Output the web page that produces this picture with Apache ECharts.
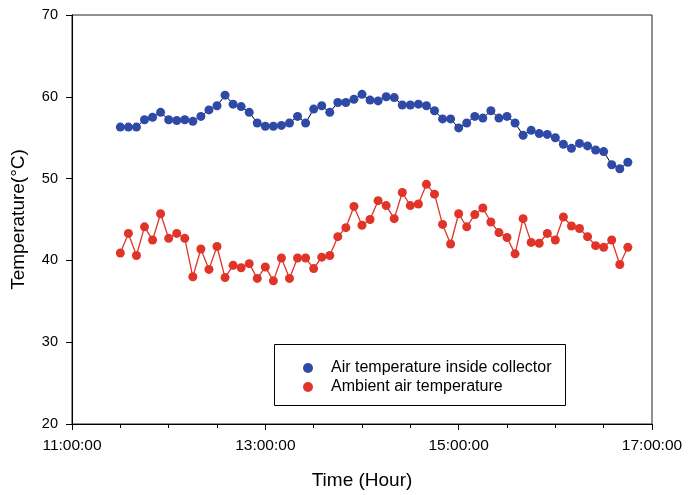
<!DOCTYPE html>
<html>
<head>
<meta charset="utf-8">
<script src="https://cdn.jsdelivr.net/npm/echarts@6/dist/echarts.min.js"></script>
<style>
html,body{margin:0;padding:0;background:#fff;}
#chart{width:690px;height:495px;}
</style>
</head>
<body>
<div id="chart"></div>
<script>
// Time of each reading (hh:mm)
var times = [
"11:30","11:35","11:40","11:45","11:50","11:55","12:00","12:05","12:10","12:15","12:20","12:25",
"12:30","12:35","12:40","12:45","12:50","12:55","13:00","13:05","13:10","13:15","13:20","13:25",
"13:30","13:35","13:40","13:45","13:50","13:55","14:00","14:05","14:10","14:15","14:20","14:25",
"14:30","14:35","14:40","14:45","14:50","14:55","15:00","15:05","15:10","15:15","15:20","15:25",
"15:30","15:35","15:40","15:45","15:50","15:55","16:00","16:05","16:10","16:15","16:20","16:25",
"16:30","16:35","16:40","16:45"
];
// Air temperature inside collector (°C)
var insideTemp = [
56.3,56.3,56.3,57.2,57.5,58.1,57.2,57.1,57.2,57.0,57.6,58.4,
58.9,60.2,59.1,58.8,58.1,56.8,56.4,56.4,56.5,56.8,57.6,56.8,
58.5,58.9,58.1,59.3,59.3,59.7,60.3,59.6,59.5,60.0,59.9,59.0,
59.0,59.1,58.9,58.3,57.3,57.3,56.2,56.8,57.6,57.4,58.3,57.4,
57.6,56.8,55.3,55.9,55.5,55.4,55.0,54.2,53.7,54.3,54.0,53.5,
53.3,51.7,51.2,52.0
];
// Ambient air temperature (°C)
var ambientTemp = [
40.9,43.3,40.6,44.1,42.5,45.7,42.7,43.3,42.7,38.0,41.4,38.9,
41.7,37.9,39.4,39.1,39.6,37.8,39.2,37.5,40.3,37.8,40.3,40.3,
39.0,40.4,40.6,42.9,44.0,46.6,44.3,45.0,47.3,46.7,45.1,48.3,
46.7,46.9,49.3,48.1,44.4,42.0,45.7,44.1,45.6,46.4,44.7,43.4,
42.8,40.8,45.1,42.2,42.1,43.3,42.5,45.3,44.2,43.9,42.9,41.8,
41.6,42.5,39.5,41.6
];
// Axis tick labels
var xTickLabels = ["11:00:00","13:00:00","15:00:00","17:00:00"];
var yTicks = [20,30,40,50,60,70];

var seriesNames = ["Air temperature inside collector","Ambient air temperature"];

function toOffset(t){ // hours after 11:00
  var p = t.split(":");
  return (parseInt(p[0],10) + parseInt(p[1],10)/60) - 11;
}
function pairs(vals){
  return vals.map(function(v,i){ return [toOffset(times[i]), v]; });
}

var font = "Arial, 'Liberation Sans', sans-serif";
var chart = echarts.init(document.getElementById('chart'), null, {renderer:'canvas'});
chart.setOption({
  animation:false,
  backgroundColor:'#fff',
  grid:{left:72,right:38,top:15,bottom:71,show:true,borderColor:'#222',borderWidth:1,backgroundColor:'transparent'},
  xAxis:{
    type:'value', min:0, max:6, interval:2,
    name:'Time (Hour)', nameLocation:'middle', nameGap:47,
    nameTextStyle:{fontSize:19,color:'#000',fontFamily:font},
    axisLine:{show:true,lineStyle:{color:'#000',width:1}},
    axisTick:{show:true,length:6,lineStyle:{color:'#000'}},
    minorTick:{show:true,splitNumber:4,length:4,lineStyle:{color:'#000'}},
    splitLine:{show:false},
    axisLabel:{fontSize:15.5,color:'#000',fontFamily:font,margin:14,
      formatter:function(v){ return xTickLabels[Math.round(v/2)]; }}
  },
  yAxis:{
    type:'value', min:yTicks[0], max:yTicks[yTicks.length-1], interval:10,
    name:'Temperature(°C)', nameLocation:'middle', nameGap:44, nameRotate:90,
    nameTextStyle:{fontSize:19,color:'#000',fontFamily:font},
    axisLine:{show:true,lineStyle:{color:'#000',width:1}},
    axisTick:{show:true,length:6,lineStyle:{color:'#000'}},
    splitLine:{show:false},
    axisLabel:{fontSize:14.5,color:'#000',fontFamily:font,margin:14}
  },
  legend:{
    orient:'vertical', left:298, top:355, itemGap:3,
    itemWidth:10, itemHeight:10, icon:'circle',
    textStyle:{fontSize:16,color:'#000',fontFamily:font,padding:[0,0,0,13]},
    data:seriesNames
  },
  graphic:[{type:'rect',left:274,top:344,shape:{width:291,height:61},
    style:{fill:'transparent',stroke:'#000',lineWidth:1},z:-1,silent:true}],
  series:[
    {name:seriesNames[0],type:'line',data:pairs(insideTemp),symbol:'circle',symbolSize:9,
     itemStyle:{color:'#2E4AA6'},lineStyle:{color:'#000',width:1},z:3},
    {name:seriesNames[1],type:'line',data:pairs(ambientTemp),symbol:'circle',symbolSize:9,
     itemStyle:{color:'#E03428'},lineStyle:{color:'#E03428',width:1.3},z:2}
  ]
});
</script>
</body>
</html>
